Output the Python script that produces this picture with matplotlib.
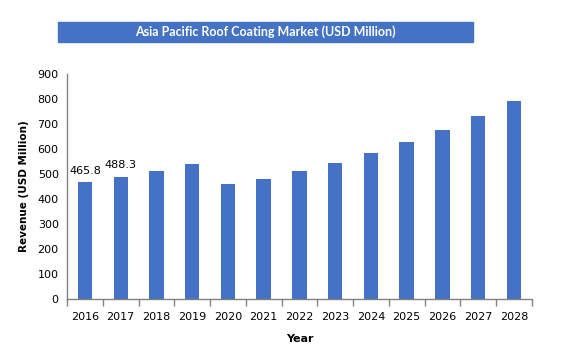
import matplotlib
matplotlib.use("Agg")
from matplotlib import pyplot as plt  # noqa
from matplotlib.patches import Rectangle

years = ['2016', '2017', '2018', '2019', '2020', '2021', '2022',
         '2023', '2024', '2025', '2026', '2027', '2028']
revenue = [465.8, 488.3, 513, 541, 461, 481, 513, 545, 585, 629, 677, 733, 793]
labelled = {0: '465.8', 1: '488.3'}

blue = '#4472C4'
grey = '#808080'

fig = plt.figure(figsize=(5.73, 3.62), dpi=100)
ax = fig.add_axes([0.117, 0.174, 0.811, 0.622])

x = range(len(years))
ax.bar(x, revenue, width=0.4, color=blue, zorder=2)

for i, txt in labelled.items():
    ax.annotate(txt, (i, revenue[i]), xytext=(0, 5), textcoords='offset points',
                ha='center', va='bottom', fontsize=8, family='DejaVu Sans')

ax.set_xlim(-0.5, len(years) - 0.5)
ax.set_ylim(0, 900)
ax.set_yticks(range(0, 901, 100))
ax.set_xticks(list(x))
ax.set_xticklabels(years)
ax.set_xticks([i - 0.5 for i in range(len(years) + 1)], minor=True)
ax.tick_params(axis='x', which='major', length=0, pad=9, labelsize=8)
ax.tick_params(axis='x', which='minor', length=5, color=grey, width=1)
ax.tick_params(axis='y', length=0, pad=6, labelsize=8)

for s in ['top', 'right']:
    ax.spines[s].set_visible(False)
for s in ['left', 'bottom']:
    ax.spines[s].set_color(grey)
    ax.spines[s].set_linewidth(1)

ax.set_xlabel('Year', fontsize=8, fontweight='bold', labelpad=9)
ax.set_ylabel('Revenue (USD Million)', fontsize=7.5, fontweight='bold', labelpad=6)

# title banner
fig.patches.append(Rectangle((58 / 573, 1 - 42 / 362), 415 / 573, 20 / 362,
                             transform=fig.transFigure, color=blue, zorder=0))
fig.text(265.5 / 573, 1 - 32 / 362, 'Asia Pacific Roof Coating Market (USD Million)',
         ha='center', va='center', color='white', fontsize=9, fontweight='bold',
         family='Lato')

fig.savefig('out.png', dpi=100)
